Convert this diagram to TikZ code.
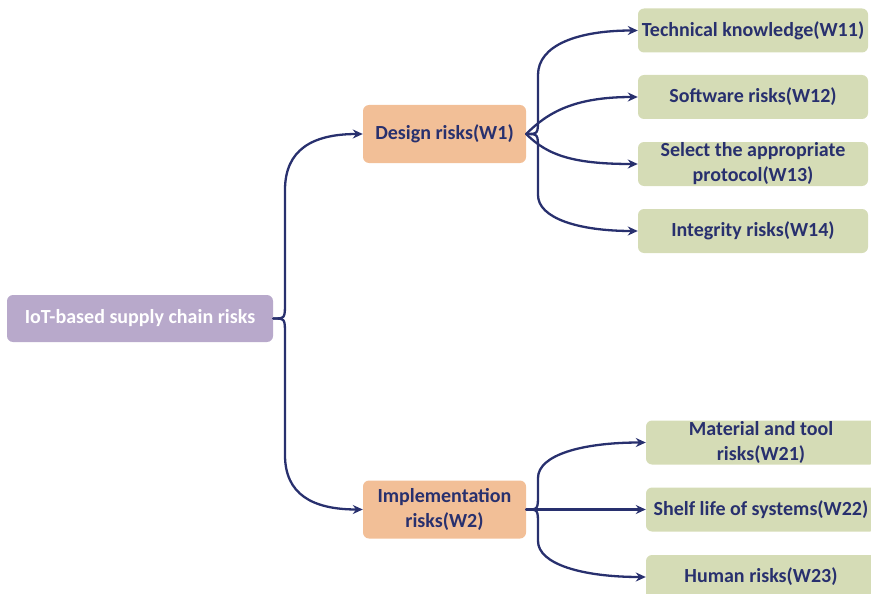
\documentclass[tikz,border=0pt]{standalone}
\usepackage{fontspec}
\setmainfont{Carlito}
\usetikzlibrary{arrows.meta}
\definecolor{navy}{HTML}{28306E}
\definecolor{rootfill}{HTML}{B8A9CB}
\definecolor{midfill}{HTML}{F2BF97}
\definecolor{leaffill}{HTML}{D5DCB6}
\begin{document}
\begin{tikzpicture}[x=1pt, y=-1pt, font=\fontsize{20}{25}\selectfont\bfseries, line join=round, line cap=round, >={Stealth[length=10pt,width=9pt]},
  box/.style={rounded corners=6pt, align=center, inner sep=0pt, text=navy},
  rootbox/.style={box, fill=rootfill, text=white, minimum width=266pt, minimum height=47pt},
  midbox/.style={box, fill=midfill, minimum width=163pt, minimum height=58pt},
  leafbox/.style={box, fill=leaffill, minimum width=230pt, minimum height=44pt},
  link/.style={->, draw=navy, line width=2.3pt}]
\def\xa{285}\def\xb{538}
\useasboundingbox (0,0) rectangle (871,594);
\clip (0,0) rectangle (871,594);
% boxes
\node[rootbox] (iot) at (140,318.5) {IoT-based supply chain risks};
\node[midbox] (w1) at (444.5,134) {Design risks(W1)};
\node[midbox] (w2) at (444.5,509.5) {Implementation\\risks(W2)};
\node[leafbox] (w11) at (753,30.5) {Technical knowledge(W11)};
\node[leafbox] (w12) at (753,97) {Software risks(W12)};
\node[leafbox] (w13) at (753,164) {Select the appropriate\\protocol(W13)};
\node[leafbox] (w14) at (753,231) {Integrity risks(W14)};
\node[leafbox] (w21) at (761,442.5) {Material and tool\\risks(W21)};
\node[leafbox] (w22) at (761,509.5) {Shelf life of systems(W22)};
\node[leafbox] (w23) at (761,577) {Human risks(W23)};
% root braces
\draw[link] (iot.east) .. controls (\xa,318.5) .. (\xa,302) -- (\xa,190) .. controls (\xa,150) and (312,134) .. (w1.west);
\draw[link] (iot.east) .. controls (\xa,318.5) .. (\xa,335) -- (\xa,455) .. controls (\xa,494) and (312,509.5) .. (w2.west);
% design risks
\draw[link] (w1.east) .. controls (\xb,134) .. (\xb,118) -- (\xb,75) .. controls (\xb,45) and (578,30.5) .. (w11.west);
\draw[link] (w1.east) .. controls (548,112) and (575,97) .. (w12.west);
\draw[link] (w1.east) .. controls (548,156) and (575,164) .. (w13.west);
\draw[link] (w1.east) .. controls (\xb,134) .. (\xb,150) -- (\xb,195) .. controls (\xb,218) and (578,231) .. (w14.west);
% implementation risks
\draw[link] (w2.east) .. controls (\xb,509.5) .. (\xb,494) -- (\xb,478) .. controls (\xb,455) and (582,442.5) .. (w21.west);
\draw[link] (w2.east) -- (w22.west);
\draw[link] (w2.east) .. controls (\xb,509.5) .. (\xb,525) -- (\xb,541) .. controls (\xb,564) and (582,577) .. (w23.west);
\end{tikzpicture}
\end{document}
